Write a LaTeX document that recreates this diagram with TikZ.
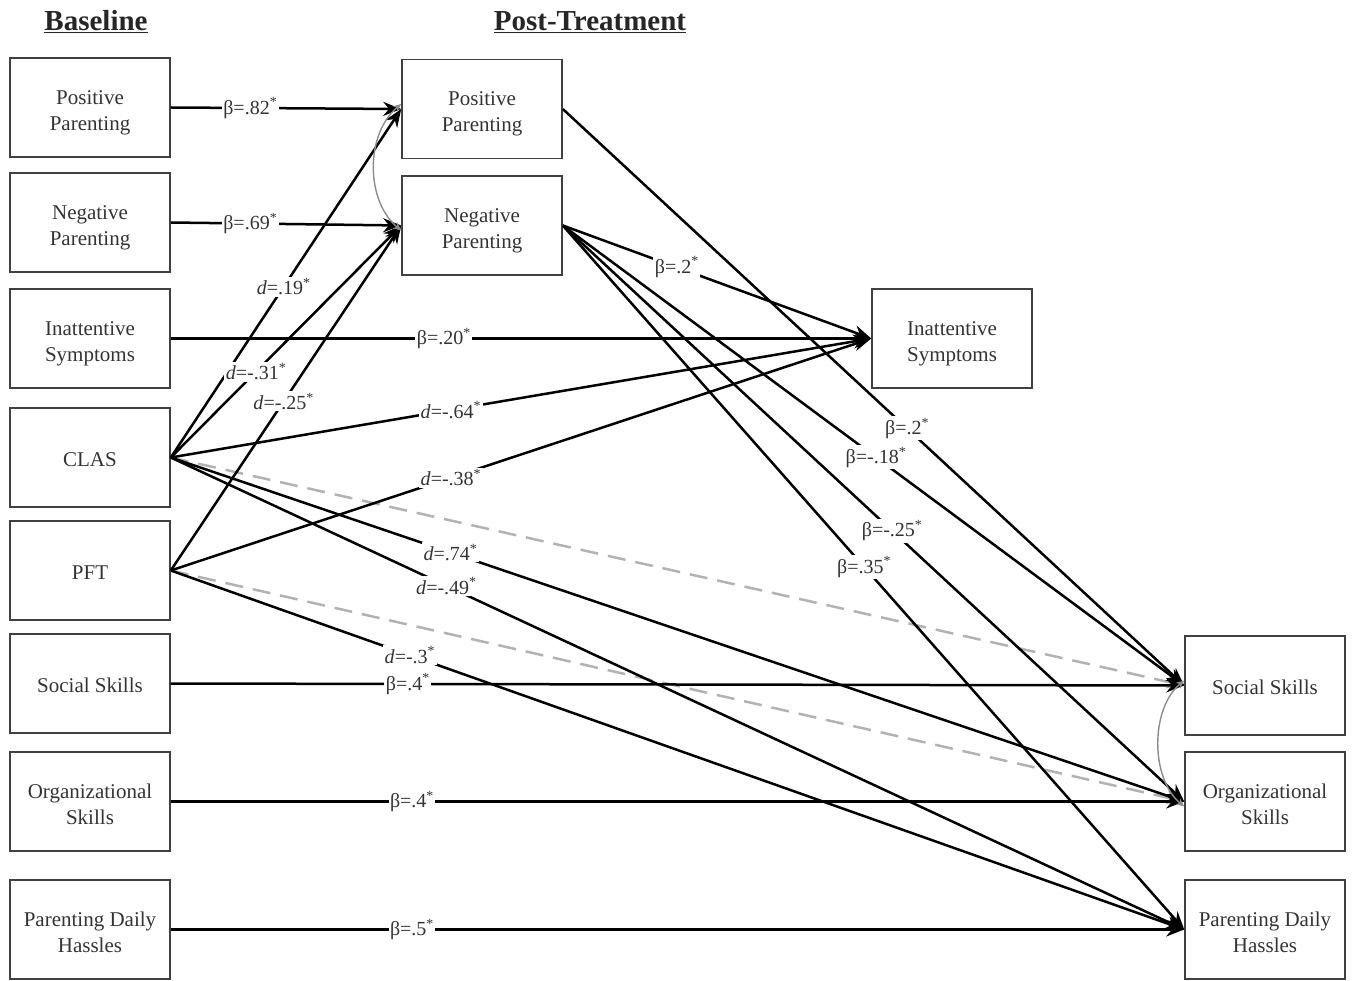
\documentclass[tikz,border=0pt]{standalone}
\usepackage{fontspec}
\setmainfont{Liberation Serif}
\usetikzlibrary{arrows.meta}
\newcommand\mysig{\textsuperscript{*}}
\begin{document}
\begin{tikzpicture}[x=1pt,y=-1pt,
 box/.style={draw=black!75, line width=1.6pt, minimum width=160pt, minimum height=99pt, align=center, font=\fontsize{21}{26}\selectfont, text=black!80, inner sep=0pt},
 two/.style={text height=50pt, text depth=4.5pt},
 one/.style={text height=18pt, text depth=0pt},
 arr/.style={line width=2.5pt, -{Stealth[length=18pt,width=14pt]}},
 dsh/.style={line width=2.5pt, draw=black!30, dash pattern=on 18pt off 10pt, -{Stealth[length=18pt,width=14pt]}},
 cov/.style={line width=1.4pt, draw=black!45, {Stealth[length=8pt,width=7pt]}-{Stealth[length=8pt,width=7pt]}},
 lbl/.style={fill=white, inner sep=1.5pt, font=\fontsize{20}{22}\selectfont, text=black!80},
 ttl/.style={font=\fontsize{29}{32}\selectfont\bfseries, text=black!85}
]
\useasboundingbox (0,0) rectangle (1355,981);

\node[ttl] (tb) at (96,22) {\underline{Baseline}};
\node[ttl] (tp) at (590,22) {\underline{Post-Treatment}};

\node[box,two] (b1) at (90,107.5) {Positive\\Parenting};
\node[box,two] (b2) at (90,222.5) {Negative\\Parenting};
\node[box,two] (b3) at (90,338.5) {Inattentive\\Symptoms};
\node[box,one] (b4) at (90,457.5) {CLAS};
\node[box,one] (b5) at (90,570.5) {PFT};
\node[box,one] (b6) at (90,683.5) {Social Skills};
\node[box,two] (b7) at (90,801.5) {Organizational\\Skills};
\node[box,two] (b8) at (90,929.5) {Parenting Daily\\Hassles};

\node[box,two] (p1) at (482,109) {Positive\\Parenting};
\node[box,two] (p2) at (482,225.5) {Negative\\Parenting};
\node[box,two] (p3) at (952,338.5) {Inattentive\\Symptoms};
\node[box,one] (p4) at (1265,685.5) {Social Skills};
\node[box,two] (p5) at (1265,801.5) {Organizational\\Skills};
\node[box,two] (p6) at (1265,929.5) {Parenting Daily\\Hassles};

% dashed
\draw[dsh] (b4.east) -- (p4.west);
\draw[dsh] (b5.east) -- (p5.west);

% solid paths
\draw[arr] (b1.east) -- (p1.west);
\draw[arr] (b2.east) -- (p2.west);
\draw[arr] (b3.east) -- (p3.west);
\draw[arr] (b4.east) -- (p1.west);
\draw[arr] (b4.east) -- (p2.west);
\draw[arr] (b5.east) -- (p2.west);
\draw[arr] (b4.east) -- (p3.west);
\draw[arr] (b5.east) -- (p3.west);
\draw[arr] (b4.east) -- (p5.west);
\draw[arr] (b4.east) -- (p6.west);
\draw[arr] (b5.east) -- (p6.west);
\draw[arr] (b6.east) -- (p4.west);
\draw[arr] (b7.east) -- (p5.west);
\draw[arr] (b8.east) -- (p6.west);
\draw[arr] (p2.east) -- (p3.west);
\draw[arr] (p1.east) -- (p4.west);
\draw[arr] (p2.east) -- (p4.west);
\draw[arr] (p2.east) -- (p5.west);
\draw[arr] (p2.east) -- (p6.west);

% covariances
\draw[cov] ([yshift=5pt]p1.west) .. controls +(-36,30) and +(-36,-30) .. ([yshift=-5pt]p2.west);
\draw[cov] ([yshift=5pt]p4.west) .. controls +(-34,28) and +(-34,-28) .. ([yshift=-5pt]p5.west);

% labels
\path (b1.east) -- node[lbl,pos=0.345]{β=.82\mysig} (p1.west);
\path (b2.east) -- node[lbl,pos=0.345]{β=.69\mysig} (p2.west);
\path (b3.east) -- node[lbl,pos=0.39]{β=.20\mysig} (p3.west);
\path (b4.east) -- node[lbl,pos=0.49]{\textit{d}=.19\mysig} (p1.west);
\path (b4.east) -- node[lbl,pos=0.37]{\textit{d}=-.31\mysig} (p2.west);
\path (b5.east) -- node[lbl,pos=0.49]{\textit{d}=-.25\mysig} (p2.west);
\path (b4.east) -- node[lbl,pos=0.40]{\textit{d}=-.64\mysig} (p3.west);
\path (b5.east) -- node[lbl,pos=0.40]{\textit{d}=-.38\mysig} (p3.west);
\path (b4.east) -- node[lbl,pos=0.276]{\textit{d}=.74\mysig} (p5.west);
\path (b4.east) -- node[lbl,pos=0.272]{\textit{d}=-.49\mysig} (p6.west);
\path (b5.east) -- node[lbl,pos=0.236]{\textit{d}=-.3\mysig} (p6.west);
\path (b6.east) -- node[lbl,pos=0.234]{β=.4\mysig} (p4.west);
\path (b7.east) -- node[lbl,pos=0.238]{β=.4\mysig} (p5.west);
\path (b8.east) -- node[lbl,pos=0.238]{β=.5\mysig} (p6.west);
\path (p2.east) -- node[lbl,pos=0.37]{β=.2\mysig} (p3.west);
\path (p1.east) -- node[lbl,pos=0.554]{β=.2\mysig} (p4.west);
\path (p2.east) -- node[lbl,pos=0.504]{β=-.18\mysig} (p4.west);
\path (p2.east) -- node[lbl,pos=0.53]{β=-.25\mysig} (p5.west);
\path (p2.east) -- node[lbl,pos=0.485]{β=.35\mysig} (p6.west);
\end{tikzpicture}
\end{document}
